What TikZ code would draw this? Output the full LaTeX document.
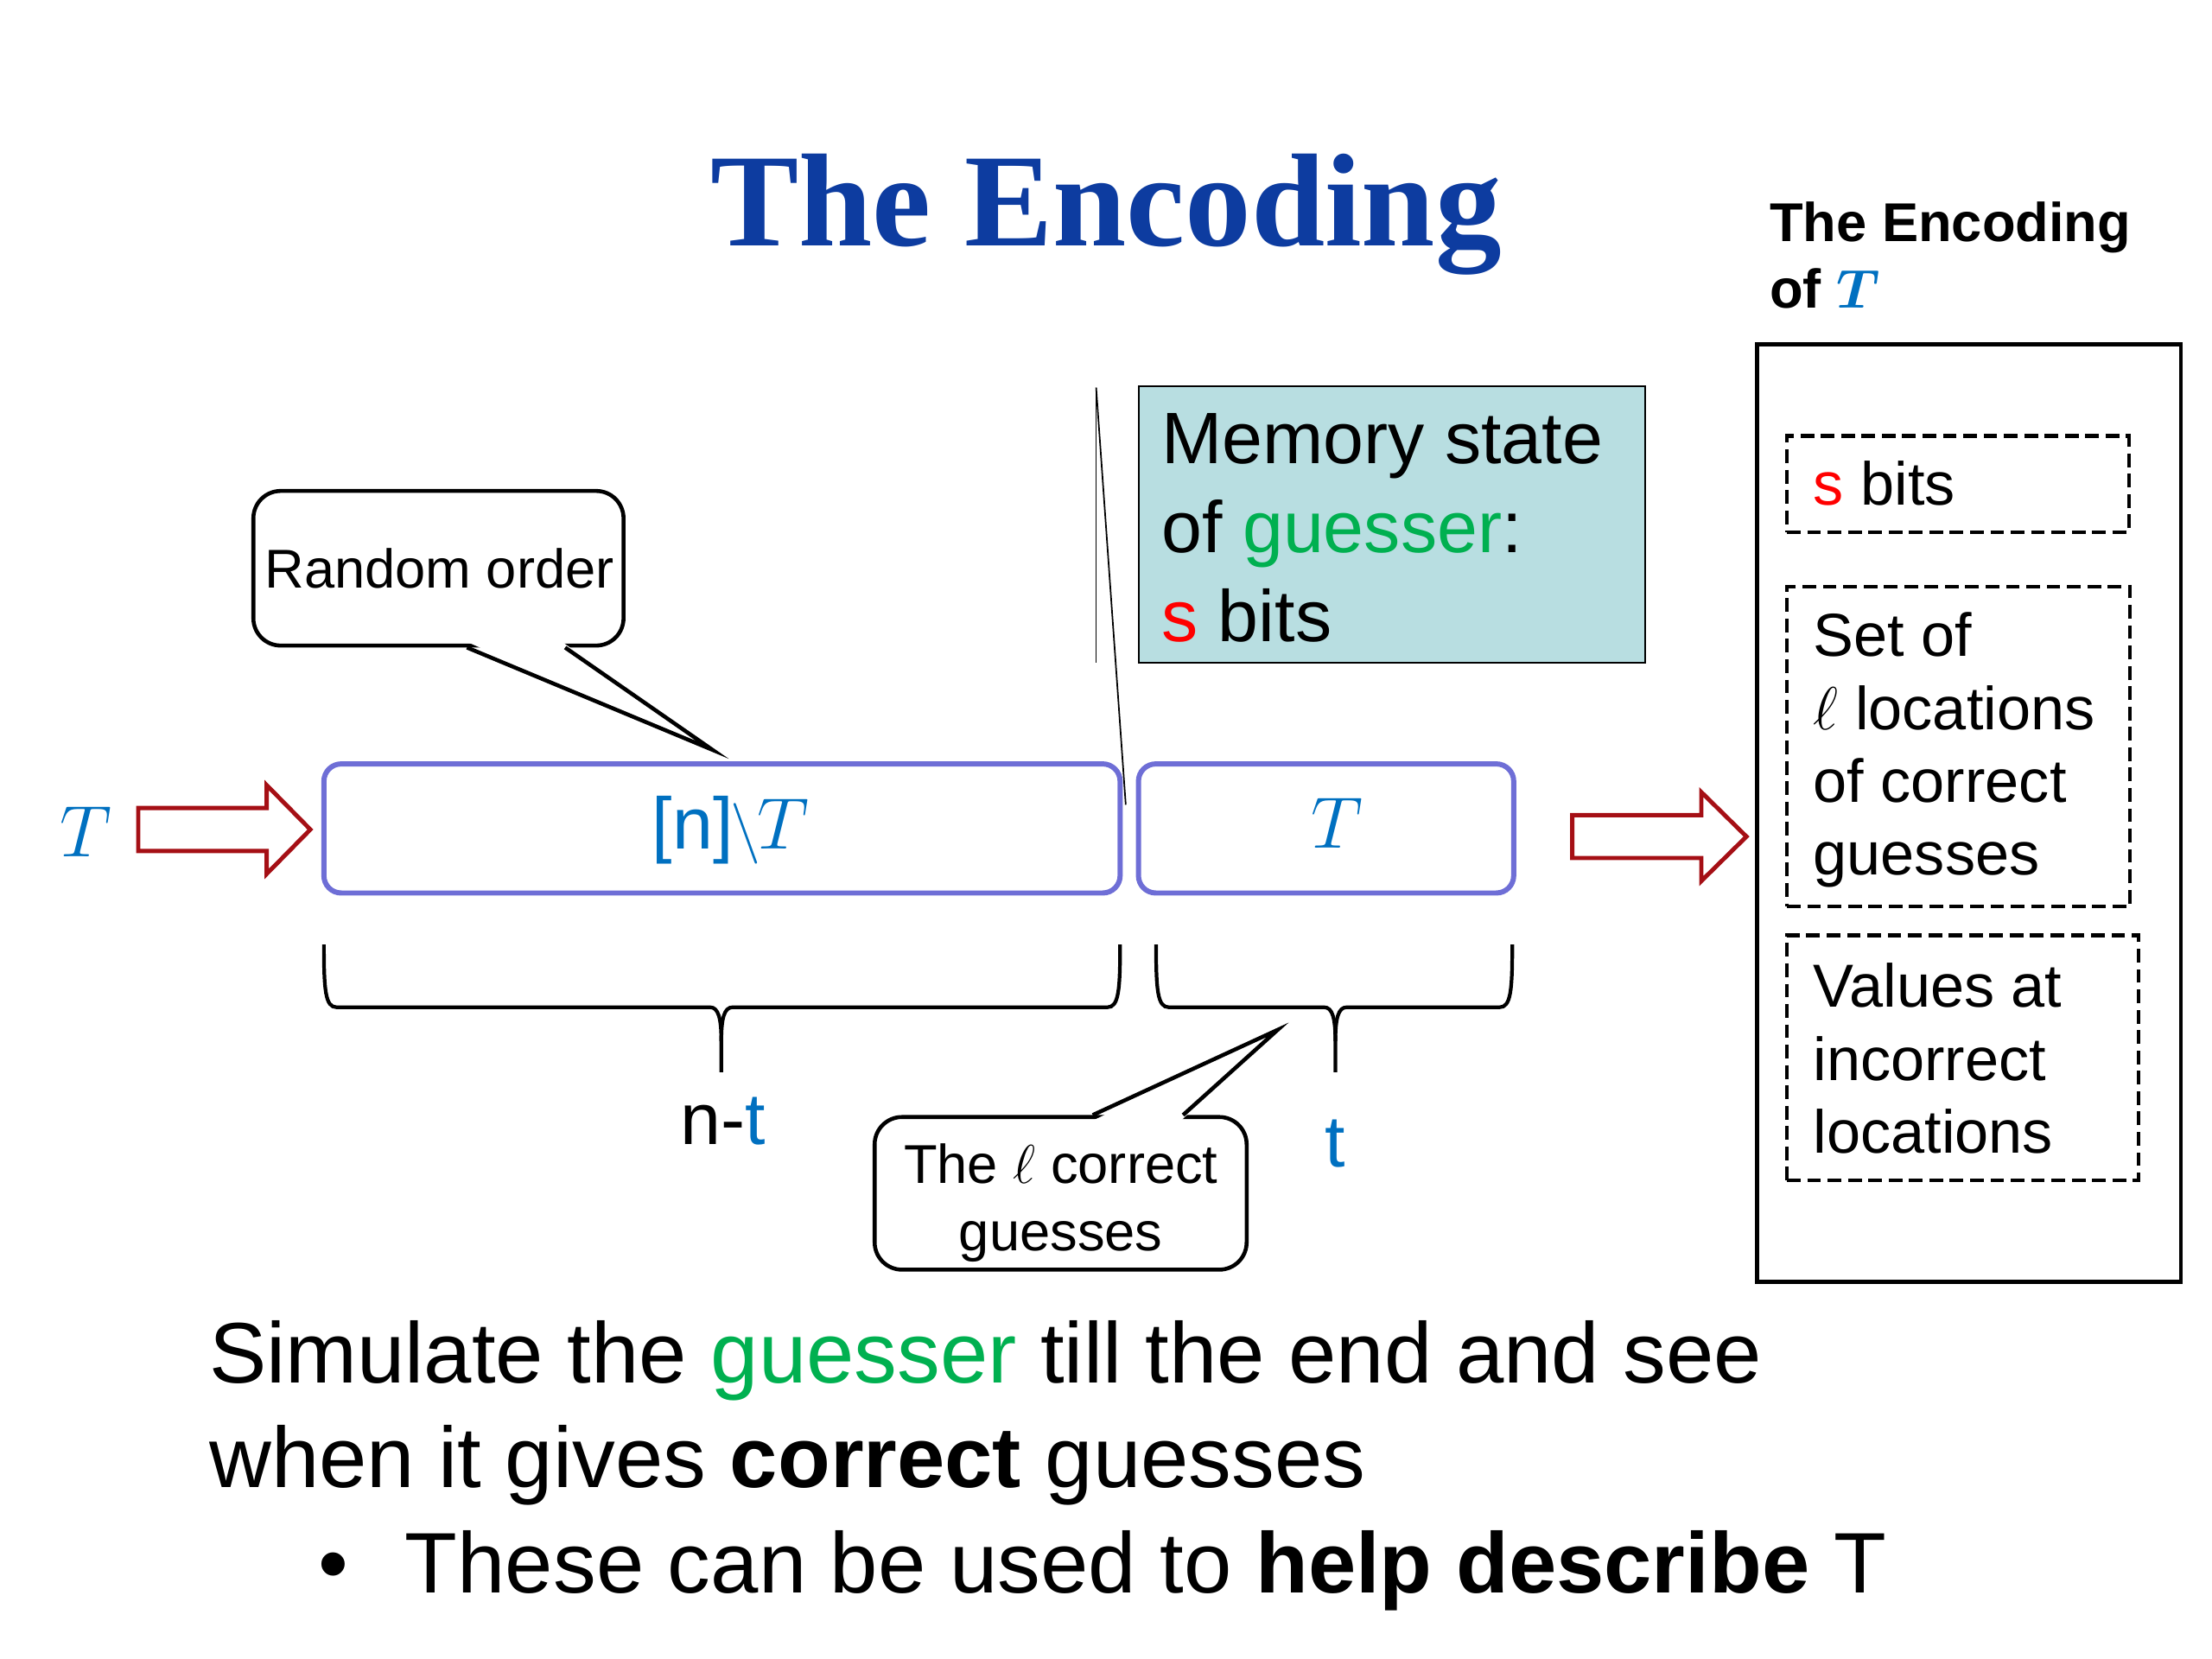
\RequirePackage{fix-cm}
\documentclass[tikz,border=0pt]{standalone}
\usepackage{amsmath}
\usepackage{amssymb}
\usepackage{fontspec}
\setmainfont{Liberation Sans}
\newfontfamily\titleserif{Liberation Serif}
\usepackage{tikz}
\usetikzlibrary{
    calc, fit
}
\definecolor{titleBlue}{HTML}{0D3CA0}
\definecolor{symBlue}{HTML}{0070C0}
\definecolor{guessGreen}{HTML}{00B050}
\definecolor{bitRed}{HTML}{FF0000}
\definecolor{arrowRed}{HTML}{A50F15}
\definecolor{boxPurple}{HTML}{6E6ED6}
\definecolor{memFill}{HTML}{B8DEE1}
\newcommand{\fsz}[2]{\fontsize{#1}{#2}\selectfont}
\newcommand{\DrawBraceDown}[3]{
    \draw[bracestroke] (#1, 669.5) .. controls (#1, 702) and ({#1+1}, 714) .. ({#1+9}, 714) -- ({#3-8}, 714) .. controls ({#3-2}, 714) and (#3, 722) .. (#3, 738) -- (#3, 760);
    \draw[bracestroke] (#3, 738) .. controls (#3, 722) and ({#3+2}, 714) .. ({#3+8}, 714) -- ({#2-9}, 714) .. controls ({#2-1}, 714) and (#2, 702) .. (#2, 669.5);
}
\newcommand{\DrawHollowArrow}[4]{
    \draw[hollowarrow] (#1, {#4-15.2}) -- (#2, {#4-15.2}) -- (#2, {#4-31.5}) -- (#3, #4) -- (#2, {#4+31.5}) -- (#2, {#4+15.2}) -- (#1, {#4+15.2}) -- cycle;
}

\begin{document}
\begin{tikzpicture}[x=0.01633cm, y=-0.01633cm,
        sans/.style={inner sep=0pt, text=black},
        boxtext/.style={inner sep=0pt, text=black, align=left},
        symtext/.style={inner sep=0pt, text=symBlue, font=\fsz{24}{28}},
        titletext/.style={inner sep=0pt, text=titleBlue, font=\titleserif\bfseries\fsz{43.6}{50}},
        headtext/.style={inner sep=0pt, align=left, font=\bfseries\fsz{18}{21.8}},
        blockbox/.style={draw=boxPurple, line width=1.7pt, rounded corners=5.7pt, inner sep=0pt},
        dashbox/.style={draw=black, line width=1.2pt, dash pattern=on 4.5pt off 2.2pt, inner sep=0pt},
        callbox/.style={draw=black, fill=white, line width=1.3pt, rounded corners=9pt, inner sep=0pt},
        calloutline/.style={draw=black, line width=1.3pt, line join=miter},
        hollowarrow/.style={draw=arrowRed, fill=white, line width=1.4pt, line join=miter},
        bracestroke/.style={draw=black, line width=1.2pt},
        thinline/.style={draw=black, line width=0.5pt}]
        \useasboundingbox (0,0) rectangle (1568,1176);

        % Titles
        \node[titletext, anchor=base] (title) at (784,174.5) {The Encoding};
        \node[headtext, anchor=north west] (enchead) at (1254,142.8) {The Encoding\\of \textcolor{symBlue}{\boldmath$T$}};

        % Input, the two blocks, output arrow
        \node[symtext, anchor=base] (inT) at (61,607) {$T$};
        \DrawHollowArrow{98}{189}{220}{588}
        \node[blockbox, fit={(229.6,541.5) (794,633)}] (restbox) {};
        \node[symtext, anchor=base] (restlabel) at (518,601.5) {[n]\kern-1pt{\fsz{20}{24}$\backslash$}\kern-1pt$T$};
        \node[blockbox, fit={(807,541.5) (1073,633)}] (tbox) {};
        \node[symtext, anchor=base] (tlabel) at (948,601) {$T$};
        \DrawHollowArrow{1114.5}{1206}{1238}{593}

        % Memory state box and its pin
        \node[fill=memFill, draw=black, line width=0.6pt, inner sep=0pt, fit={(807,273.6) (1166,470)}] (membox) {};
        \node[boxtext, font=\fsz{24}{29.3}, anchor=north west] (memtext) at (823,292.6) {Memory state\\of \textcolor{guessGreen}{guesser}:\\\textcolor{bitRed}{s} bits};
        \coordinate (pin) at (777,274.7);
        \coordinate (pinfoot) at (777,470);
        \coordinate (pinend) at (798,570.5);
        \draw[thinline] (pin) -- (pinfoot);
        \draw[thinline] (pin) -- (pinend);

        % Callout: random order
        \node[callbox, fit={(179.6,348) (442,457.6)}] (randbox) {};
        \node[sans, font=\fsz{18}{21.6}, anchor=base] (randtext) at (311.5,417) {Random order};
        \coordinate (randtip) at (505,531.5);
        \fill[white] ($(randbox.south west)+(154,-3.5)$) -- (randtip) -- ($(randbox.south west)+(221,-3.5)$) -- cycle;
        \draw[calloutline] ($(randbox.south west)+(152.8,0)$) -- (randtip) -- ($(randbox.south west)+(222.4,0)$);

        % Braces
        \DrawBraceDown{229.6}{794}{511.3}
        \DrawBraceDown{819.5}{1072}{946.6}
        \node[sans, font=\fsz{24}{28}, anchor=base] (nminust) at (512.5,811) {n-\textcolor{symBlue}{t}};
        \node[sans, font=\fsz{24}{28}, text=symBlue, anchor=base] (tcount) at (946.6,827) {t};

        % Callout: correct guesses
        \node[callbox, fit={(620,791.8) (883.7,900)}] (guessbox) {};
        \node[sans, font=\fsz{18}{22.3}, align=center, anchor=north] (guesstext) at (752,810.3) {The $\ell$ correct\\guesses};
        \coordinate (guesstip) at (905.7,730);
        \fill[white] ($(guessbox.north west)+(157,3.5)$) -- (guesstip) -- ($(guessbox.north west)+(219,3.5)$) -- cycle;
        \draw[calloutline] ($(guessbox.north west)+(156,0)$) -- (guesstip) -- ($(guessbox.north west)+(220,0)$);

        % The encoding of T
        \node[draw=black, line width=1.3pt, inner sep=0pt, fit={(1245.6,243.9) (1546,908.6)}] (encbox) {};
        \node[dashbox, fit={(1266.7,309) (1509,377.3)}] (sbitsbox) {};
        \node[boxtext, font=\fsz{20}{24}, anchor=base west] (sbitstext) at (1285,358.3) {\textcolor{bitRed}{s} bits};
        \node[dashbox, fit={(1266.7,415.9) (1510,642.3)}] (locbox) {};
        \node[boxtext, font=\fsz{20}{24}, anchor=north west] (loctext) at (1285,433.8) {Set of\\$\ell$ locations\\of correct\\guesses};
        \node[dashbox, fit={(1266.7,663) (1516,836.8)}] (valbox) {};
        \node[boxtext, font=\fsz{20}{24}, anchor=north west] (valtext) at (1285,682.5) {Values at\\incorrect\\locations};

        % Text below
        \node[boxtext, font=\fsz{28.3}{34.6}, anchor=north west] (simtext) at (148,935.6) {Simulate the \textcolor{guessGreen}{guesser} till the end and see\\when it gives \textbf{correct} guesses\\\makebox[64.5pt][l]{\hspace*{36pt}\textbullet}These can be used to \textbf{help describe} T};
    \end{tikzpicture}
\end{document}
